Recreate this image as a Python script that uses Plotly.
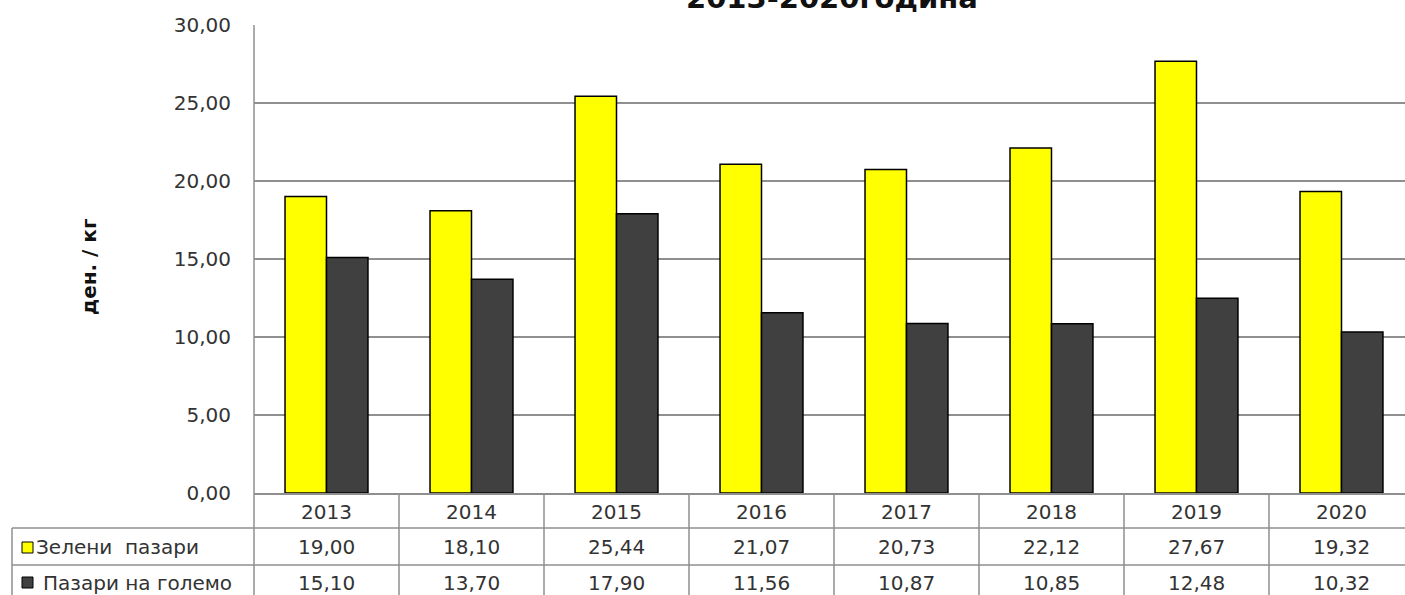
import plotly.graph_objects as go

years = ["2013", "2014", "2015", "2016", "2017", "2018", "2019", "2020"]
green_markets = [19.00, 18.10, 25.44, 21.07, 20.73, 22.12, 27.67, 19.32]
wholesale_markets = [15.10, 13.70, 17.90, 11.56, 10.87, 10.85, 12.48, 10.32]
series_names = ["Зелени\u00a0 пазари", "Пазари на големо"]
y_ticks = [0, 5, 10, 15, 20, 25, 30]

W, H = 1405, 595
L, R, T, B = 254, 0, 25, 102
pw, ph = W - L - R, H - T - B


def px_x(p):
    return (p - L) / pw


def px_y(p):
    return (H - B - p) / ph


def fmt(v):
    return f"{v:.2f}".replace(".", ",")


fig = go.Figure()
fig.add_bar(x=years, y=green_markets, name=series_names[0],
            marker=dict(color="#FFFF00", line=dict(color="#000000", width=1.5)))
fig.add_bar(x=years, y=wholesale_markets, name=series_names[1],
            marker=dict(color="#404040", line=dict(color="#000000", width=1.5)))

FONT = "DejaVu Sans"
grid_col = "#8f8f8f"
tcol = "#333333"
FS = 20

annotations = []
shapes = []

row_c = [512, 547, 583]
row_lines = [528, 565]

for i, yr in enumerate(years):
    for r, txt in enumerate([yr, fmt(green_markets[i]), fmt(wholesale_markets[i])]):
        annotations.append(dict(x=i, xref="x", y=px_y(row_c[r]), yref="paper", text=txt,
                                showarrow=False, font=dict(family=FONT, size=FS, color=tcol),
                                xanchor="center", yanchor="middle"))

# vertical table lines at category boundaries
for i in range(len(years)):
    shapes.append(dict(type="line", xref="x", yref="paper", x0=i + 0.5, x1=i + 0.5,
                       y0=0, y1=px_y(600), line=dict(color=grid_col, width=1.5)))
# left axis line extended into table
shapes.append(dict(type="line", xref="paper", yref="paper", x0=0, x1=0,
                   y0=1, y1=px_y(600), line=dict(color=grid_col, width=1.5)))
# horizontal table lines
for ly in row_lines:
    shapes.append(dict(type="line", xref="paper", yref="paper", x0=px_x(12), x1=1,
                       y0=px_y(ly), y1=px_y(ly), line=dict(color=grid_col, width=1.5)))
# legend column left border
shapes.append(dict(type="line", xref="paper", yref="paper", x0=px_x(12), x1=px_x(12),
                   y0=px_y(528), y1=px_y(600), line=dict(color=grid_col, width=1.5)))

# legend keys
shapes.append(dict(type="rect", xref="paper", yref="paper", x0=px_x(22), x1=px_x(33),
                   y0=px_y(553), y1=px_y(542), fillcolor="#FFFF00", line=dict(color="#000", width=1)))
shapes.append(dict(type="rect", xref="paper", yref="paper", x0=px_x(22), x1=px_x(33),
                   y0=px_y(588), y1=px_y(577), fillcolor="#404040", line=dict(color="#000", width=1)))

annotations.append(dict(x=px_x(34), xref="paper", y=px_y(row_c[1]), yref="paper", text=series_names[0],
                        showarrow=False, font=dict(family=FONT, size=FS, color=tcol),
                        xanchor="left", yanchor="middle"))
annotations.append(dict(x=px_x(41), xref="paper", y=px_y(row_c[2]), yref="paper", text=series_names[1],
                        showarrow=False, font=dict(family=FONT, size=FS, color=tcol),
                        xanchor="left", yanchor="middle"))

# y-axis title
annotations.append(dict(x=px_x(89), xref="paper", y=px_y(267), yref="paper", text="<b>ден. / кг</b>",
                        textangle=-90, showarrow=False, font=dict(family=FONT, size=20, color="#111"),
                        xanchor="center", yanchor="middle"))
# chart title (partly cut at top)
annotations.append(dict(x=px_x(832), xref="paper", y=px_y(17), yref="paper", text="<b>2013-2020година</b>",
                        showarrow=False, font=dict(family=FONT, size=29, color="#111"),
                        xanchor="center", yanchor="bottom"))

fig.update_layout(
    width=W, height=H,
    margin=dict(l=L, r=R, t=T, b=B, pad=0),
    paper_bgcolor="white", plot_bgcolor="white",
    barmode="group", bargap=0.428, bargroupgap=0,
    showlegend=False,
    separators=", ",
    shapes=shapes,
    annotations=annotations,
    font=dict(family=FONT, size=FS, color=tcol),
)
fig.update_xaxes(type="category", categoryorder="array", categoryarray=years,
                 range=[-0.5, 7.438], showticklabels=False, showgrid=False,
                 showline=True, linecolor=grid_col, linewidth=1.5, ticks="", zeroline=False)
fig.update_yaxes(range=[0, 30], tickvals=y_ticks, tickformat=".2f",
                 showgrid=True, gridcolor=grid_col, gridwidth=1.5,
                 showline=False, zeroline=False, ticks="",
                 ticklabelstandoff=22,
                 tickfont=dict(family=FONT, size=FS, color=tcol))

fig.write_html("out.html", config={"displayModeBar": False},
               post_script="document.body.style.margin='0px';")
